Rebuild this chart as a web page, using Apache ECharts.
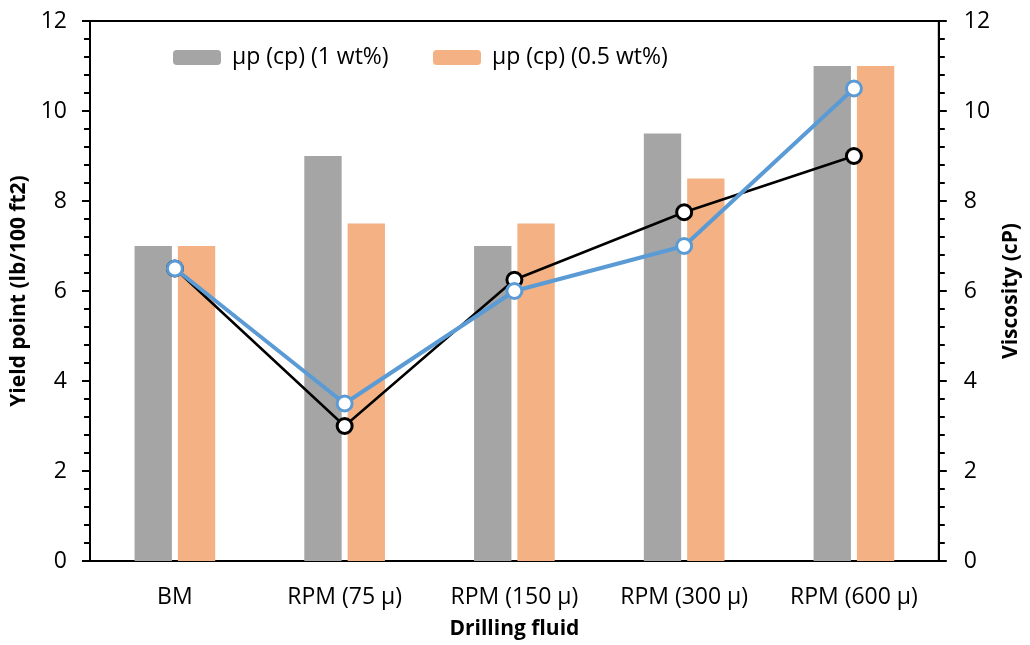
<!DOCTYPE html>
<html>
<head>
<meta charset="utf-8">
<script src="https://cdn.jsdelivr.net/npm/echarts@6/dist/echarts.min.js"></script>
<style>
html,body{margin:0;padding:0;background:#fff;}
#c{width:1030px;height:645px;}
</style>
</head>
<body>
<div id="c"></div>
<script>
const categories = ['BM', 'RPM (75 μ)', 'RPM (150 μ)', 'RPM (300 μ)', 'RPM (600 μ)'];
const bar1wt = [7, 9, 7, 9.5, 11];
const bar05wt = [7, 7.5, 7.5, 8.5, 11];
const lineBlack = [6.5, 3, 6.25, 7.75, 9];
const lineBlue = [6.5, 3.5, 6, 7, 10.5];
const legendNames = ['μp (cp) (1 wt%)', 'μp (cp) (0.5 wt%)'];

const FONT = 'Open Sans';
const chart = echarts.init(document.getElementById('c'));
const valAxis = (pos, name, gap, margin) => ({
  type: 'value', position: pos, min: 0, max: 12, interval: 2,
  name: name, nameLocation: 'middle', nameGap: gap,
  nameTextStyle: {fontFamily: FONT, fontSize: 21, fontWeight: 'bold', color: '#000'},
  axisLine: {show: true, lineStyle: {color: '#000', width: 2}},
  axisTick: {show: true, inside: false, length: 8, lineStyle: {color: '#000', width: 2}},
  minorTick: {show: true, splitNumber: 5, length: 6, lineStyle: {color: '#000', width: 2}},
  axisLabel: {fontFamily: FONT, fontSize: 23, color: '#000', margin: margin},
  splitLine: {show: false}
});
const legendStyle = {fontFamily: FONT, fontSize: 23, color: '#000', padding: [0, 0, 0, 6]};
chart.setOption({
  animation: false,
  textStyle: {fontFamily: FONT},
  grid: {left: 90, right: 86, top: 21, bottom: 83, show: true, borderColor: '#000', borderWidth: 2},
  legend: [
    {data: [legendNames[0]], top: 46, left: 173, padding: 0, itemWidth: 48, itemHeight: 15, itemGap: 6,
     textStyle: legendStyle},
    {data: [legendNames[1]], top: 46, left: 433, padding: 0, itemWidth: 48, itemHeight: 15, itemGap: 6,
     textStyle: legendStyle}
  ],
  xAxis: {
    type: 'category', data: categories,
    name: 'Drilling fluid', nameLocation: 'middle', nameGap: 58,
    nameTextStyle: {fontFamily: FONT, fontSize: 21, fontWeight: 'bold', color: '#000'},
    axisLine: {lineStyle: {color: '#000', width: 2}},
    axisTick: {alignWithLabel: true, length: 7, lineStyle: {color: '#000', width: 2}},
    axisLabel: {fontFamily: FONT, fontSize: 23, color: '#000', margin: 25}
  },
  yAxis: [valAxis('left', 'Yield point (lb/100 ft2)', 58, 23), valAxis('right', 'Viscosity (cP)', 60, 25)],
  series: [
    {name: legendNames[0], type: 'bar', data: bar1wt, barWidth: '22%', barGap: '16%',
     itemStyle: {color: '#A5A5A5'}},
    {name: legendNames[1], type: 'bar', data: bar05wt, barWidth: '22%',
     itemStyle: {color: '#F4B183'}},
    {name: 'black', type: 'line', yAxisIndex: 1, data: lineBlack,
     symbol: 'circle', symbolSize: 15,
     lineStyle: {color: '#000', width: 2.5},
     itemStyle: {color: '#fff', borderColor: '#000', borderWidth: 3}, z: 5},
    {name: 'blue', type: 'line', yAxisIndex: 1, data: lineBlue,
     symbol: 'circle', symbolSize: 15,
     lineStyle: {color: '#5B9BD5', width: 4},
     itemStyle: {color: '#fff', borderColor: '#5B9BD5', borderWidth: 3}, z: 6}
  ]
});
</script>
</body>
</html>
